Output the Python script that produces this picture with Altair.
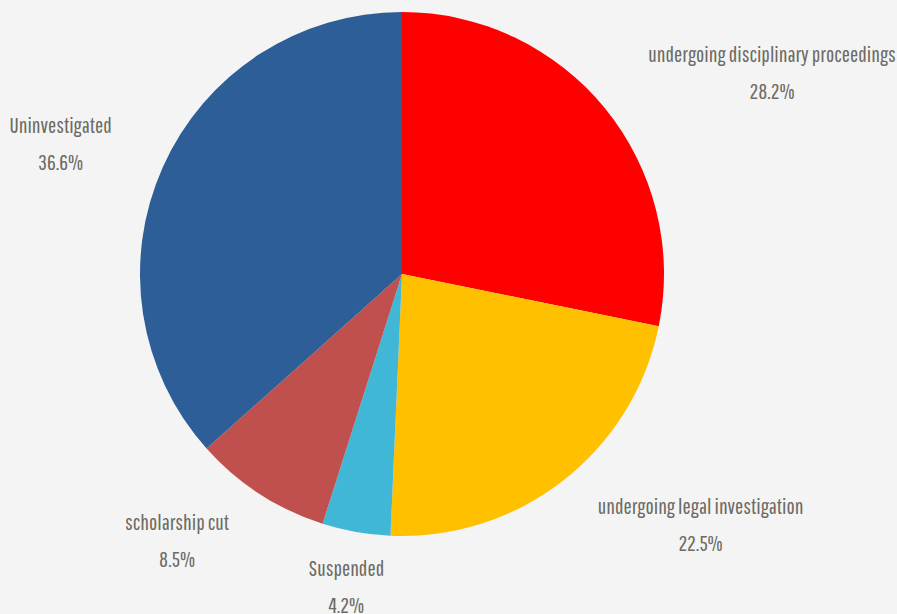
import altair as alt
import pandas as pd
import math, subprocess

categories = ["undergoing disciplinary proceedings", "undergoing legal investigation",
              "Suspended", "scholarship cut", "Uninvestigated"]
values = [28.2, 22.5, 4.2, 8.5, 36.6]
colors = ["#ff0000", "#ffc000", "#41b7d7", "#c0504d", "#2e5e97"]

FONT = "Pathway Gothic One"
TEXT_COLOR = "#6d6b64"

_font_path = None
try:
    _font_path = subprocess.run(["fc-match", "-f", "%{file}", FONT], capture_output=True, text=True).stdout.strip()
except Exception:
    pass

def measure(text, size):
    try:
        from PIL import ImageFont
        return ImageFont.truetype(_font_path, 100).getlength(text) * size / 100
    except Exception:
        return len(text) * 0.36 * size

# choose size so the longest label spans about as wide as in the reference (~248 px)
FSIZE = round(248 / measure(categories[0], 1.0), 1)
if not (14 <= FSIZE <= 26):
    FSIZE = 20

df = pd.DataFrame({"category": categories, "value": values, "order": list(range(len(values)))})
df["pct"] = [f"{v}%" for v in values]

theta_scale = alt.Scale(domain=[0, 100])
base = alt.Chart(df).transform_window(
    cum="sum(value)", sort=[alt.SortField("order")], frame=[None, 0]
).transform_calculate(start="datum.cum - datum.value", mid="datum.cum - datum.value / 2")

pie = base.mark_arc(outerRadius=262).encode(
    theta=alt.Theta("start:Q", scale=theta_scale, stack=False),
    theta2="cum:Q",
    color=alt.Color("category:N", scale=alt.Scale(domain=categories, range=colors), legend=None),
    x=alt.value(402), y=alt.value(274),
)

layers = [pie]
cum = 0.0
for i, (c, v) in enumerate(zip(categories, values)):
    mid = (cum + v / 2) / 100 * 2 * math.pi
    cum += v
    s = math.sin(mid)
    if s > 0.3:
        align, side = "left", 1
    elif s < -0.3:
        align, side = "right", -1
    else:
        align, side = "center", 0
    w = measure(c, FSIZE)
    sub = base.transform_filter(alt.datum.order == i)
    enc = dict(theta=alt.Theta("mid:Q", scale=theta_scale, stack=False),
               x=alt.value(402), y=alt.value(274), radius=alt.value(318))
    name = sub.mark_text(align=align, baseline="middle", dy=-18, font=FONT, fontSize=FSIZE,
                         color=TEXT_COLOR).encode(text="category:N", **enc)
    pct = sub.mark_text(align="center", baseline="middle", dy=19, dx=side * w / 2, font=FONT,
                        fontSize=FSIZE, color=TEXT_COLOR).encode(text="pct:N", **enc)
    layers += [name, pct]

chart = alt.layer(*layers).properties(
    width=897, height=614, autosize=alt.AutoSizeParams(type="none"), padding=0,
).configure(background="#f4f4f4").configure_view(stroke=None)

chart.save("out.html", embed_options={"renderer": "svg", "actions": False})
